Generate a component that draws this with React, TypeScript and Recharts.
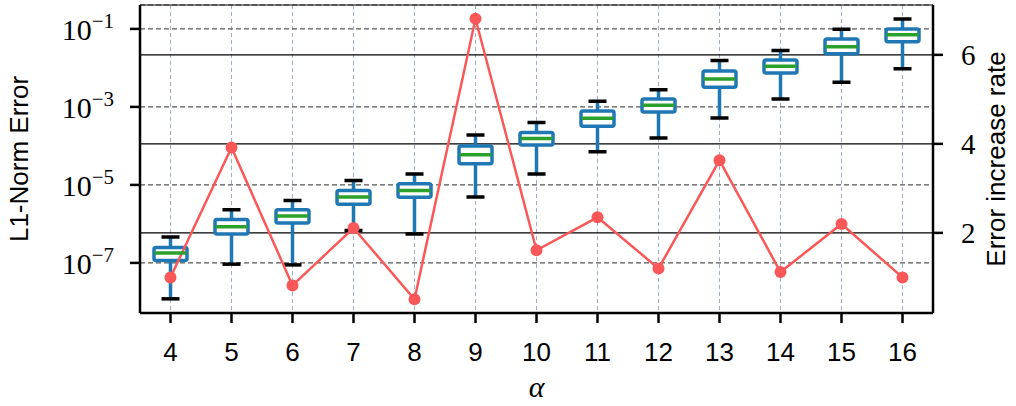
import {
  ComposedChart,
  Bar,
  Line,
  XAxis,
  YAxis,
  CartesianGrid,
  Label,
} from "recharts";

const BLUE = "#1f77b4";
const GREEN = "#2ca02c";
const RED = "#fa5858";

// alpha values on the x axis
const alphas = [4, 5, 6, 7, 8, 9, 10, 11, 12, 13, 14, 15, 16];

// box plot statistics of the L1-norm error (left, log axis)
const whiskerLow = [1.2e-8, 9.3e-8, 8.9e-8, 6.8e-7, 5.5e-7, 4.9e-6, 1.9e-5, 7.1e-5, 1.6e-4, 5.2e-4, 1.6e-3, 4.3e-3, 9.5e-3];
const quart1 = [1.15e-7, 5.5e-7, 1.05e-6, 3.2e-6, 4.8e-6, 3.5e-5, 1.05e-4, 3.2e-4, 7.4e-4, 3.2e-3, 7.4e-3, 2.3e-2, 4.7e-2];
const medians = [1.8e-7, 8.5e-7, 1.6e-6, 4.9e-6, 7.2e-6, 5.9e-5, 1.55e-4, 5.1e-4, 1.1e-3, 5.2e-3, 1.1e-2, 3.5e-2, 7.1e-2];
const quart3 = [2.5e-7, 1.3e-6, 2.3e-6, 7.2e-6, 1.07e-5, 1.0e-4, 2.2e-4, 7.9e-4, 1.6e-3, 8.3e-3, 1.6e-2, 5.5e-2, 0.1];
const whiskerHigh = [4.6e-7, 2.3e-6, 4.0e-6, 1.3e-5, 1.9e-5, 1.9e-4, 4.0e-4, 1.4e-3, 2.75e-3, 1.55e-2, 2.8e-2, 9.8e-2, 0.18];

// error increase rate (right axis)
const rates = [1.0, 3.92, 0.82, 2.11, 0.51, 6.81, 1.61, 2.35, 1.2, 3.63, 1.12, 2.2, 1.0];

const leftTicks = [1e-7, 1e-5, 1e-3, 1e-1];
const rightTicks = [2, 4, 6];

const data = alphas.map((a, i) => ({
  alpha: String(a),
  whisker: [whiskerLow[i], whiskerHigh[i]],
  box: [quart1[i], quart3[i]],
  median: medians[i],
  rate: rates[i],
}));

const SERIF = "'Liberation Serif', serif";
const SANS = "'Liberation Sans', sans-serif";

const WhiskerShape = (props: any) => {
  const { x, y, width, height } = props;
  const cx = x + width / 2;
  return (
    <g>
      <line x1={cx} x2={cx} y1={y} y2={y + height} stroke={BLUE} strokeWidth={3.5} />
      <line x1={cx - 9} x2={cx + 9} y1={y} y2={y} stroke="#000" strokeWidth={3.5} />
      <line x1={cx - 9} x2={cx + 9} y1={y + height} y2={y + height} stroke="#000" strokeWidth={3.5} />
    </g>
  );
};

const BoxShape = (props: any) => {
  const { x, y, width, height } = props;
  return <rect x={x} y={y} width={width} height={height} rx={2} fill="#fff" stroke={BLUE} strokeWidth={3.5} />;
};

const MedianDot = (props: any) => {
  const { cx, cy, index } = props;
  return <line key={`med-${index}`} x1={cx - 16} x2={cx + 16} y1={cy} y2={cy} stroke={GREEN} strokeWidth={3.5} />;
};

const LogTick = (props: any) => {
  const { x, y, payload } = props;
  const exp = Math.round(Math.log10(payload.value));
  return (
    <text x={x - 14} y={y + 11} textAnchor="end" fontFamily={SERIF} fontSize={30} fill="#000">
      <tspan>10</tspan>
      <tspan dy={-12} fontSize={21}>{`\u2212${-exp}`}</tspan>
    </text>
  );
};

const RightTick = (props: any) => {
  const { x, y, payload } = props;
  return (
    <text x={x + 16} y={y + 10} textAnchor="start" fontFamily={SERIF} fontSize={29} fill="#000">
      {payload.value}
    </text>
  );
};

const BottomTick = (props: any) => {
  const { x, y, payload } = props;
  return (
    <text x={x} y={y + 36} textAnchor="middle" fontFamily={SANS} fontSize={26} fill="#000">
      {payload.value}
    </text>
  );
};

export default function App() {
  return (
    <div style={{ position: "absolute", left: 0, top: 0 }}>
      <ComposedChart width={1016} height={406} data={data} margin={{ top: 5, right: 0, bottom: 0, left: 0 }}>
        <CartesianGrid xAxisId="main" yAxisId="left" vertical horizontal={false} stroke="#9fb0c6" strokeDasharray="4 3" />
        <CartesianGrid xAxisId="main" yAxisId="left" vertical={false} horizontal stroke="#555" strokeDasharray="5 3" strokeWidth={1.2} />
        <CartesianGrid xAxisId="main" yAxisId="right" vertical={false} horizontal stroke="#000" strokeWidth={1.2} />
        <XAxis
          xAxisId="main"
          dataKey="alpha"
          height={93}
          tickSize={10}
          tick={<BottomTick />}
          axisLine={{ stroke: "#000", strokeWidth: 2.5 }}
          tickLine={{ stroke: "#000", strokeWidth: 2.5 }}
        >
          <Label
            content={({ viewBox }: any) => (
              <text x={viewBox.x + viewBox.width / 2} y={viewBox.y + 84} textAnchor="middle" fontFamily={SERIF} fontStyle="italic" fontSize={30}>
                α
              </text>
            )}
          />
        </XAxis>
        <XAxis xAxisId="box" dataKey="alpha" hide height={0} />
        <XAxis
          xAxisId="top"
          dataKey="alpha"
          orientation="top"
          height={0}
          tick={false}
          tickLine={false}
          axisLine={{ stroke: "#000", strokeWidth: 2.5 }}
        />
        <YAxis
          yAxisId="left"
          scale="log"
          domain={[5.2e-9, 0.41]}
          allowDataOverflow
          ticks={leftTicks}
          width={140}
          tickSize={10}
          tick={<LogTick />}
          axisLine={{ stroke: "#000", strokeWidth: 2.5 }}
          tickLine={{ stroke: "#000", strokeWidth: 2.5 }}
        >
          <Label
            content={({ viewBox }: any) => {
              const cx = viewBox.x + 19;
              const cy = viewBox.y + viewBox.height / 2;
              return (
                <text x={cx} y={cy} transform={`rotate(-90 ${cx} ${cy})`} textAnchor="middle" dominantBaseline="central" fontFamily={SANS} fontSize={26}>
                  L1-Norm Error
                </text>
              );
            }}
          />
        </YAxis>
        <YAxis
          yAxisId="right"
          orientation="right"
          domain={[0.2, 7.12]}
          allowDataOverflow
          ticks={rightTicks}
          width={83}
          tickSize={10}
          tick={<RightTick />}
          axisLine={{ stroke: "#000", strokeWidth: 2.5 }}
          tickLine={{ stroke: "#000", strokeWidth: 2.5 }}
        >
          <Label
            content={({ viewBox }: any) => {
              const cx = viewBox.x + 63;
              const cy = viewBox.y + viewBox.height / 2;
              return (
                <text x={cx} y={cy} transform={`rotate(-90 ${cx} ${cy})`} textAnchor="middle" dominantBaseline="central" fontFamily={SANS} fontSize={26}>
                  Error increase rate
                </text>
              );
            }}
          />
        </YAxis>
        <Bar xAxisId="main" yAxisId="left" dataKey="whisker" barSize={33} shape={<WhiskerShape />} isAnimationActive={false} />
        <Bar xAxisId="box" yAxisId="left" dataKey="box" barSize={33} shape={<BoxShape />} isAnimationActive={false} />
        <Line
          xAxisId="main"
          yAxisId="left"
          dataKey="median"
          stroke="none"
          dot={<MedianDot />}
          activeDot={false}
          isAnimationActive={false}
        />
        <Line
          xAxisId="main"
          yAxisId="right"
          dataKey="rate"
          stroke={RED}
          strokeWidth={2.5}
          dot={{ r: 6, fill: RED, stroke: "none" }}
          activeDot={false}
          isAnimationActive={false}
        />
      </ComposedChart>
    </div>
  );
}
